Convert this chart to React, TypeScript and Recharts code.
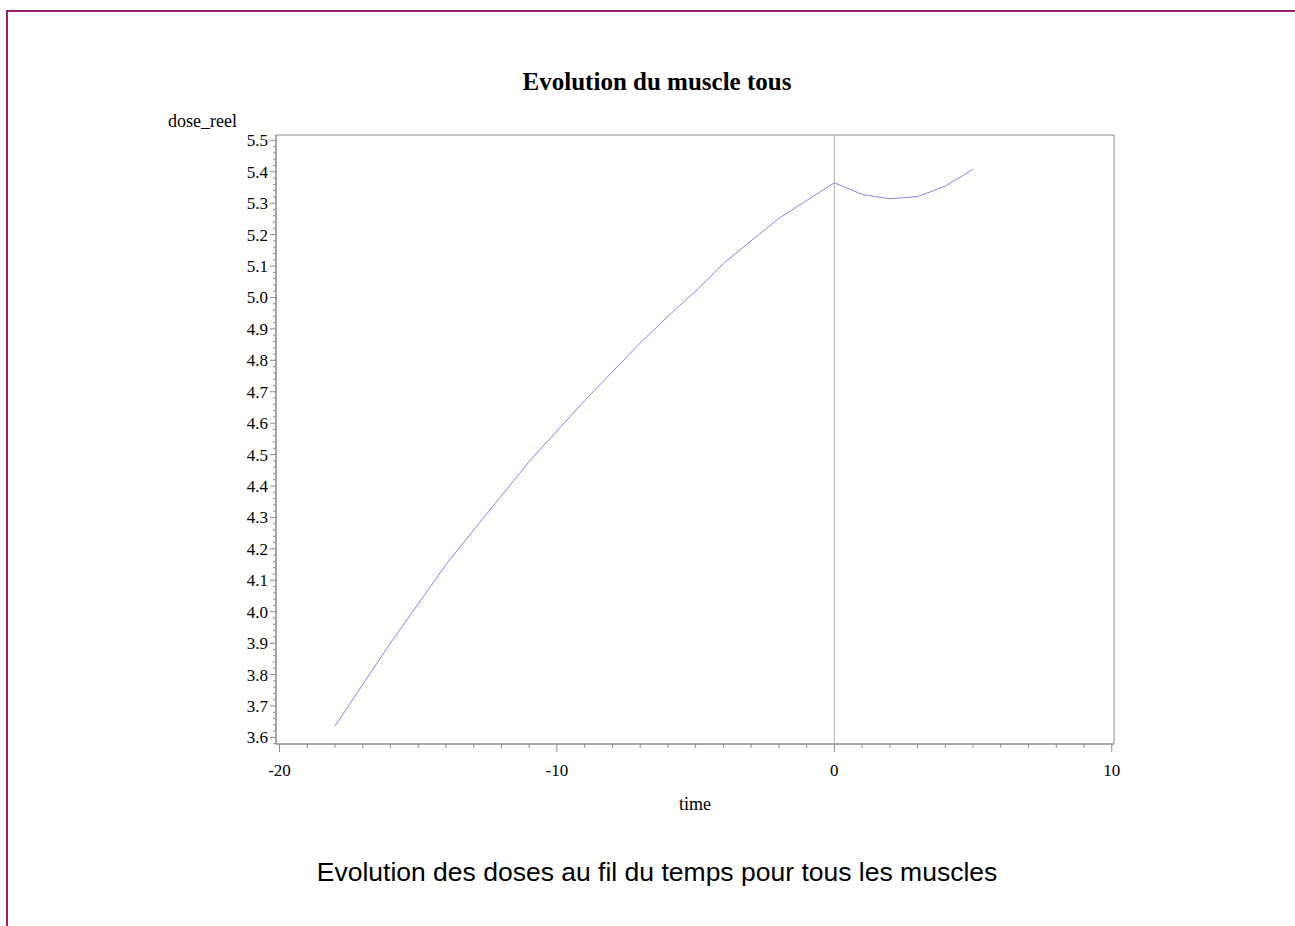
import React from "react";
import {
  LineChart,
  Line,
  XAxis,
  YAxis,
  ReferenceLine,
  ReferenceArea,
} from "recharts";

// temps relatif (jours) et dose moyenne observée
const times = [-18, -16, -14, -13, -11, -9, -7, -6, -5, -4, -2, 0, 1, 2, 3, 4, 5];
const doses = [
  3.636, 3.9, 4.15, 4.26, 4.478, 4.672, 4.855, 4.94, 5.02, 5.108, 5.252, 5.365,
  5.328, 5.314, 5.321, 5.354, 5.408,
];

const xMajor = [-20, -10, 0, 10];
const xTicks = Array.from({ length: 31 }, (_, i) => -20 + i);
const yTicks = Array.from({ length: 97 }, (_, i) => +(3.58 + i * 0.02).toFixed(2));

const X_DOMAIN: [number, number] = [-20.126, 10.08];
const Y_DOMAIN: [number, number] = [3.579, 5.517];

const AXIS = "#8c8c8c";
const SERIF = "'Liberation Serif', 'Times New Roman', serif";

const data = times.map((t, i) => ({ time: t, dose_reel: doses[i] }));

const XTick = (props: any) => {
  const { x, y, payload } = props;
  const major = xMajor.includes(payload.value);
  return (
    <g>
      <line x1={x} x2={x} y1={y} y2={y + (major ? 8 : 4)} stroke={AXIS} />
      {major && (
        <text
          x={x}
          y={y + 32}
          textAnchor="middle"
          fontFamily={SERIF}
          fontSize={17}
          fill="#000"
        >
          {payload.value}
        </text>
      )}
    </g>
  );
};

const YTick = (props: any) => {
  const { x, y, payload } = props;
  const v = Math.round(payload.value * 100);
  const major = v % 10 === 0;
  return (
    <g>
      <line x1={x} x2={x - (major ? 6 : 3)} y1={y} y2={y} stroke={AXIS} />
      {major && (
        <text
          x={x - 8}
          y={y + 6}
          textAnchor="end"
          fontFamily={SERIF}
          fontSize={17}
          fill="#000"
        >
          {(v / 100).toFixed(1)}
        </text>
      )}
    </g>
  );
};

export default function App() {
  return (
    <div
      style={{
        position: "absolute",
        left: 0,
        top: 0,
        width: 1295,
        height: 926,
        background: "#fff",
        overflow: "hidden",
      }}
    >
      {/* cadre de la page */}
      <div
        style={{
          position: "absolute",
          left: 6,
          top: 10,
          right: 0,
          bottom: 0,
          borderTop: "2px solid #9c1c66",
          borderLeft: "2px solid #9c1c66",
        }}
      />
      <div
        style={{
          position: "absolute",
          left: 0,
          width: 1314,
          top: 67,
          lineHeight: "29px",
          textAlign: "center",
          fontFamily: SERIF,
          fontWeight: "bold",
          fontSize: 25,
        }}
      >
        Evolution du muscle tous
      </div>
      <div
        style={{
          position: "absolute",
          left: 168,
          top: 111,
          lineHeight: "21px",
          fontFamily: SERIF,
          fontSize: 18,
        }}
      >
        dose_reel
      </div>
      <div
        style={{
          position: "absolute",
          left: 0,
          width: 1390,
          top: 794,
          lineHeight: "21px",
          textAlign: "center",
          fontFamily: SERIF,
          fontSize: 18,
        }}
      >
        time
      </div>
      <div
        style={{
          position: "absolute",
          left: 0,
          width: 1314,
          top: 857,
          lineHeight: "30px",
          textAlign: "center",
          fontFamily: "'Liberation Sans', Arial, sans-serif",
          fontSize: 26.5,
        }}
      >
        Evolution des doses au fil du temps pour tous les muscles
      </div>
      <div style={{ position: "absolute", left: 0, top: 0 }}>
        <LineChart
          width={1295}
          height={926}
          data={data}
          margin={{ top: 135, right: 181, left: 216, bottom: 152 }}
        >
          <XAxis
            type="number"
            dataKey="time"
            domain={X_DOMAIN}
            ticks={xTicks}
            interval={0}
            allowDataOverflow
            tickLine={false}
            tickSize={0}
            tickMargin={0}
            height={30}
            axisLine={{ stroke: AXIS }}
            tick={<XTick />}
          />
          <YAxis
            type="number"
            domain={Y_DOMAIN}
            ticks={yTicks}
            interval={0}
            allowDataOverflow
            tickLine={false}
            tickSize={0}
            tickMargin={0}
            width={60}
            axisLine={{ stroke: AXIS }}
            tick={<YTick />}
          />
          <ReferenceArea
            x1={X_DOMAIN[0]}
            x2={X_DOMAIN[1]}
            y1={Y_DOMAIN[0]}
            y2={Y_DOMAIN[1]}
            fill="none"
            stroke={AXIS}
            strokeWidth={1}
          />
          <ReferenceLine x={0} stroke="#b4b4b4" />
          <Line
            type="linear"
            dataKey="dose_reel"
            stroke="#8585f2"
            strokeWidth={1}
            dot={false}
            isAnimationActive={false}
          />
        </LineChart>
      </div>
    </div>
  );
}
